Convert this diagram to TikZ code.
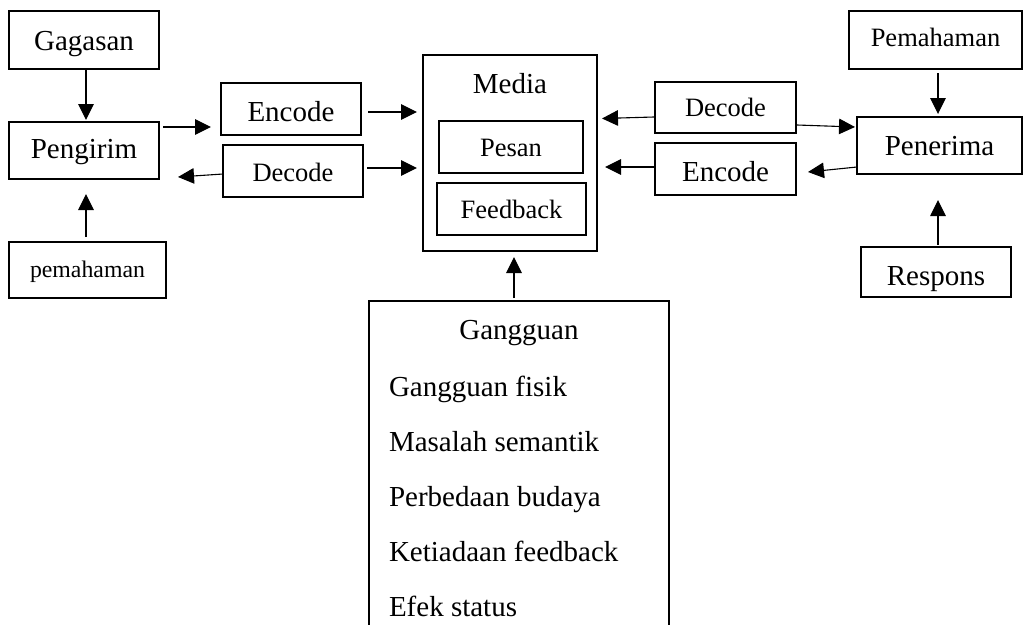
\documentclass[tikz,border=0pt]{standalone}
\usepackage{fontspec}
\setmainfont{Liberation Serif}
\usetikzlibrary{arrows.meta}
\begin{document}
\begin{tikzpicture}[x=1pt,y=-1pt,
  box/.style={draw=black,line width=1.2pt,inner sep=0pt,outer sep=0pt},
  big/.style={font=\fontsize{29}{34}\selectfont},
  mid/.style={font=\fontsize{26.5}{32}\selectfont},
  sml/.style={font=\fontsize{23.8}{28}\selectfont},
  txt/.style={anchor=base,inner sep=0pt,outer sep=0pt},
  arr/.style={line width=1.1pt,-{Triangle[length=16pt,width=15.5pt]}}]
\useasboundingbox (0,0) rectangle (1024,624);
\clip (0,0) rectangle (1024,624);

% left column
\node[box,minimum width=150pt,minimum height=58pt] (gag) at (84,40) {};
\node[txt,big] (tgag) at (84,50) {Gagasan};
\node[box,minimum width=150pt,minimum height=57pt] (peng) at (84,150.5) {};
\node[txt,big] (tpeng) at (84,158) {Pengirim};
\node[box,minimum width=157pt,minimum height=56pt] (pem) at (87.5,270) {};
\node[txt,sml] (tpem) at (87.5,277) {pemahaman};

% left encode/decode
\node[box,minimum width=140pt,minimum height=52pt] (encL) at (291,109) {};
\node[txt,big] (tencL) at (291,121) {Encode};
\node[box,minimum width=140pt,minimum height=52pt] (decL) at (293,171) {};
\node[txt,mid] (tdecL) at (293,181) {Decode};

% media
\node[box,minimum width=174pt,minimum height=196pt] (media) at (510,153) {};
\node[txt,big] (tmedia) at (510,93) {Media};
\node[box,minimum width=144pt,minimum height=52pt] (pesan) at (511,147) {};
\node[txt,mid] (tpesan) at (511,156.7) {Pesan};
\node[box,minimum width=149pt,minimum height=52pt] (fb) at (511.5,209) {};
\node[txt,mid] (tfb) at (511.5,218) {Feedback};

% gangguan
\node[box,anchor=north,minimum width=300pt,minimum height=340pt] (gang) at (519,301) {};
\node[txt,big] (tgang) at (519,339.3) {Gangguan};
\node[txt,big,anchor=base west] (g1) at (389,396.7) {Gangguan fisik};
\node[txt,big,anchor=base west] (g2) at (389,451.7) {Masalah semantik};
\node[txt,big,anchor=base west] (g3) at (389,506.7) {Perbedaan budaya};
\node[txt,big,anchor=base west] (g4) at (389,561.7) {Ketiadaan feedback};
\node[txt,big,anchor=base west] (g5) at (389,616.7) {Efek status};

% right decode/encode
\node[box,minimum width=141pt,minimum height=51pt] (decR) at (725.5,107.5) {};
\node[txt,mid] (tdecR) at (725.5,116.7) {Decode};
\node[box,minimum width=141pt,minimum height=52pt] (encR) at (725.5,169) {};
\node[txt,big] (tencR) at (725.5,181) {Encode};

% right column
\node[box,minimum width=173pt,minimum height=58pt] (pemR) at (935.5,40) {};
\node[txt,mid] (tpemR) at (935.5,46) {Pemahaman};
\node[box,minimum width=165pt,minimum height=57pt] (pen) at (939.5,145.5) {};
\node[txt,big] (tpen) at (939.5,155) {Penerima};
\node[box,minimum width=150pt,minimum height=50pt] (resp) at (936,272) {};
\node[txt,big] (tresp) at (936,285) {Respons};

% arrows left
\draw[arr] ([shift={(2,0)}]gag.south) -- ([shift={(2,-2)}]peng.north);
\draw[arr] ([shift={(-1.5,-5)}]pem.north) -- ([shift={(2,15)}]peng.south);
\draw[arr] ([shift={(4,5)}]peng.north east) -- ([shift={(-10,18)}]encL.west);
\draw[arr] ([shift={(0,3)}]decL.west) -- ([shift={(19,26.5)}]peng.east);
\draw[arr] ([shift={(7,3)}]encL.east) -- ([shift={(-6,-41)}]media.west);
\draw[arr] ([shift={(4,-3)}]decL.east) -- ([shift={(-6,15)}]media.west);

% arrows right
\draw[arr] ([shift={(-1,9.5)}]decR.west) -- ([shift={(5,-34.5)}]media.east);
\draw[arr] ([shift={(0,-2)}]encR.west) -- ([shift={(8,14)}]media.east);
\draw[arr] ([shift={(1,17.5)}]decR.east) -- ([shift={(-2,-18.5)}]pen.west);
\draw[arr] ([shift={(0,21.5)}]pen.west) -- ([shift={(12,3)}]encR.east);
\draw[arr] ([shift={(2.5,4)}]pemR.south) -- ([shift={(-1.5,-3)}]pen.north);
\draw[arr] ([shift={(2,-2)}]resp.north) -- ([shift={(-1.5,26)}]pen.south);

% gangguan -> media
\draw[arr] ([shift={(-5,-3)}]gang.north) -- ([shift={(4,6)}]media.south);
\end{tikzpicture}
\end{document}
